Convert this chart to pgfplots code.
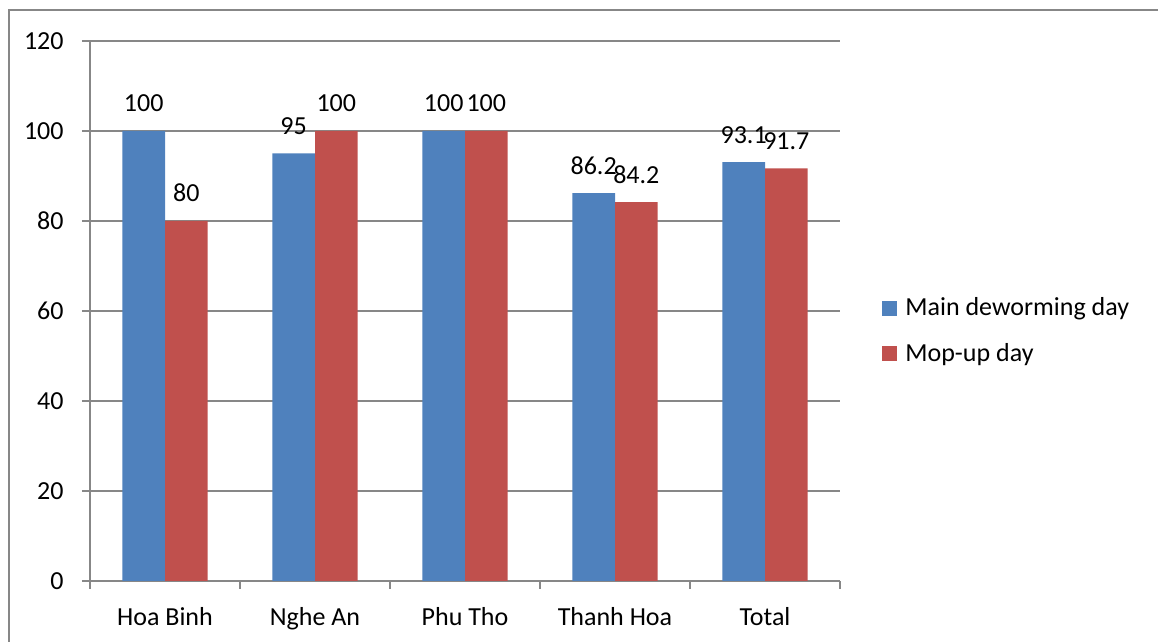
\documentclass[border=0pt]{standalone}
\usepackage{pgfplots}
\pgfplotsset{compat=1.18}
\usepackage{fontspec}
\setmainfont{Carlito}
\definecolor{barblue}{HTML}{4F81BD}
\definecolor{barred}{HTML}{C0504D}
\definecolor{gridgray}{HTML}{878787}
\begin{document}
\begin{tikzpicture}
\useasboundingbox (0,0) rectangle (579pt,321pt);
\draw[gridgray, line width=0.75pt] (4.5pt,0pt) -- (4.5pt,316pt) -- (579pt,316pt);
\begin{axis}[
  at={(45pt,30.5pt)}, anchor=south west,
  scale only axis, width=375pt, height=270pt,
  font=\fontsize{13}{15.6}\selectfont,
  /pgf/number format/assume math mode=true,
  /pgf/number format/fixed,
  /pgf/number format/precision=1,
  ybar=0pt, bar width=21.33pt,
  xmin=-0.5, xmax=4.5, ymin=0, ymax=120,
  ytick={0,20,...,120},
  xtick={0,1,2,3,4},
  xticklabels={Hoa Binh, Nghe An, Phu Tho, Thanh Hoa, Total},
  major x tick style={draw=none},
  minor xtick={-0.5,0.5,...,4.5},
  minor x tick style={gridgray, line width=1pt},
  minor tick length=4pt,
  major tick length=4pt,
  xtick pos=bottom, ytick pos=left,
  tick align=outside,
  ytick style={gridgray, line width=1pt},
  ymajorgrids,
  grid style={gridgray, line width=1pt},
  axis line style={gridgray, line width=1pt},
  axis x line*=bottom, axis y line*=left,
  xticklabel style={anchor=base, yshift=-18.5pt, inner sep=0pt},
  yticklabel style={anchor=east, inner sep=0pt, xshift=-9pt},
  nodes near coords,
  every node near coord/.append style={anchor=base, yshift=9.5pt, inner sep=0pt, font=\fontsize{13}{15.6}\selectfont, text=black},
  legend style={at={(rel axis cs:1.056,0.525)}, anchor=north west, draw=none, fill=none, inner sep=0pt, row sep=12pt,
    nodes={inner sep=0pt, font=\fontsize{13}{15.6}\selectfont}},
  legend cell align=left,
  legend image code/.code={\fill (0pt,-3.75pt) rectangle (7.5pt,3.75pt);},
  /tikz/every odd column/.append style={column sep=4pt},
]
\addplot[fill=barblue, draw=none] coordinates {(0,100) (1,95) (2,100) (3,86.2) (4,93.1)};
\addplot[fill=barred, draw=none] coordinates {(0,80) (1,100) (2,100) (3,84.2) (4,91.7)};
\legend{Main deworming day, Mop-up day}
\end{axis}
\end{tikzpicture}
\end{document}
